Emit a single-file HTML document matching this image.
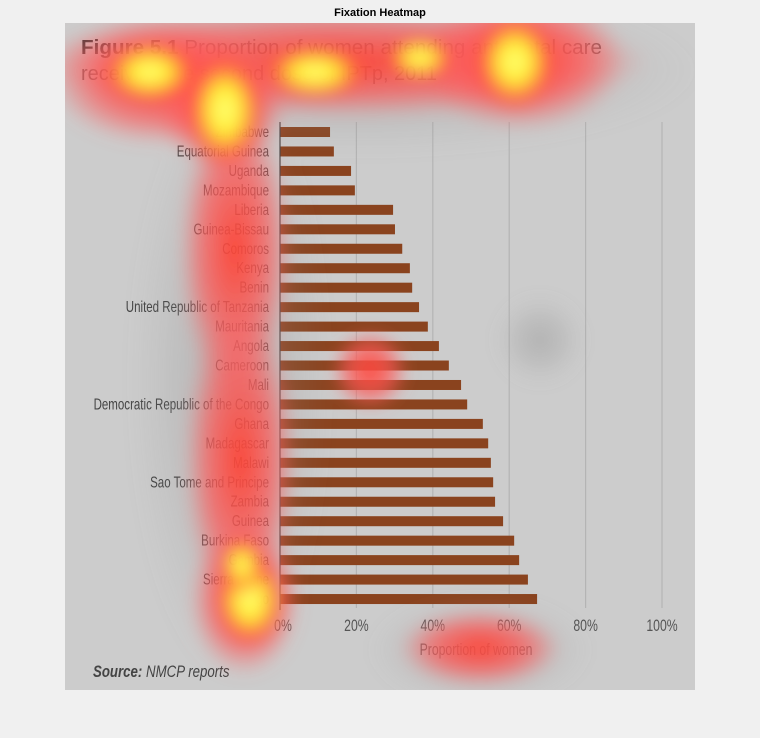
<!DOCTYPE html>
<html><head><meta charset="utf-8">
<style>
html,body{margin:0;padding:0;background:#f0f0f0;width:760px;height:738px;overflow:hidden}
svg{display:block}
text{font-family:"Liberation Sans",sans-serif}
</style></head>
<body>
<svg width="760" height="738">
<defs>
<radialGradient id="hot"><stop offset="0" stop-color="#ffff80" stop-opacity="1"/><stop offset="0.4" stop-color="#ffef30" stop-opacity="1"/><stop offset="0.75" stop-color="#ff6040" stop-opacity="0.75"/><stop offset="1" stop-color="#ff4040" stop-opacity="0"/></radialGradient>
<radialGradient id="warm"><stop offset="0" stop-color="#ff4030" stop-opacity="0.95"/><stop offset="0.6" stop-color="#ff5a5a" stop-opacity="0.7"/><stop offset="1" stop-color="#ff6060" stop-opacity="0"/></radialGradient>
<radialGradient id="shade"><stop offset="0" stop-color="#8a8a8a" stop-opacity="0.4"/><stop offset="1" stop-color="#8a8a8a" stop-opacity="0"/></radialGradient>
<filter id="bl" x="-20%" y="-20%" width="140%" height="140%"><feGaussianBlur stdDeviation="8"/></filter>
<clipPath id="imgclip"><rect x="65" y="23" width="630" height="667"/></clipPath>
</defs>
<text x="380" y="16" text-anchor="middle" font-size="11" font-weight="bold" fill="#000">Fixation Heatmap</text>
<rect x="65" y="23" width="630" height="667" fill="#cccccc"/>
<g id="chart"></g>
<g clip-path="url(#imgclip)"><g id="heat" filter="url(#bl)"></g></g>
</svg>
<script>
const countries=["Zimbabwe","Equatorial Guinea","Uganda","Mozambique","Liberia","Guinea-Bissau","Comoros","Kenya","Benin","United Republic of Tanzania","Mauritania","Angola","Cameroon","Mali","Democratic Republic of the Congo","Ghana","Madagascar","Malawi","Sao Tome and Principe","Zambia","Guinea","Burkina Faso","Gambia","Sierra Leone","Togo"];
const values=[13.1,14.1,18.6,19.6,29.6,30.1,32,34,34.6,36.4,38.7,41.6,44.2,47.4,49,53.1,54.5,55.2,55.8,56.3,58.4,61.3,62.6,64.9,67.3];
const ticks=[0,20,40,60,80,100];
const tickLabels=["0%","20%","40%","60%","80%","100%"];
const NS="http://www.w3.org/2000/svg";
const x0=280,x1=662,yTop=132,step=19.46;
const xs=v=>x0+(x1-x0)*v/100;
const ys=i=>yTop+i*step;
const chart=document.getElementById('chart');
function mk(t,a,p){const e=document.createElementNS(NS,t);for(const k in a)e.setAttribute(k,a[k]);(p||chart).appendChild(e);return e;}
function ctext(x,y,anchor,size,fill,str){const t=mk('text',{x:0,y:0,'text-anchor':anchor,'font-size':size,fill:fill,transform:'translate('+x+','+y+') scale(0.72,1)'});t.textContent=str;return t;}
ticks.forEach((t,i)=>{
  if(i>0){const g=mk('line',{x1:xs(t),x2:xs(t),y1:122,y2:608,stroke:'#b4b4b4','stroke-width':1.2});
  
  }
  const l=ctext(xs(t)+(i==0?3:0),631,'middle',17,'#555',tickLabels[i]);
  
  
});
countries.forEach((c,i)=>{
  const b=mk('rect',{x:x0,y:ys(i)-5,width:xs(values[i])-x0,height:10,fill:'#8a431e'});
  
  
  const t=ctext(x0-11,ys(i)+5,'end',16,'#444',c);
  
  
});
const ax=mk('line',{x1:x0,x2:x0,y1:122,y2:610,stroke:'#444','stroke-width':1.2});


const xt=ctext(476,655,'middle',17,'#555',"Proportion of women");


const src=mk('text',{x:0,y:0,'font-size':17,fill:'#444','font-style':'italic',transform:'translate(93,677) scale(0.78,1)'});
src.innerHTML='<tspan font-weight="bold">Source:</tspan> NMCP reports';


const t1=mk('text',{x:81,y:54,'font-size':20,fill:'#555',textLength:521,lengthAdjust:'spacingAndGlyphs'});
t1.innerHTML='<tspan font-weight="bold" fill="#333">Figure 5.1</tspan> Proportion of women attending antenatal care';


const t2=mk('text',{x:81,y:80,'font-size':20,fill:'#555',textLength:356,lengthAdjust:'spacingAndGlyphs'});
t2.textContent='receiving the second dose of IPTp, 2011';


const heat=document.getElementById('heat');
const blobs=[
 ['shade',360,70,340,85],['shade',230,380,100,300],['shade',540,340,45,45],['shade',480,650,110,55],
 ['warm',340,62,310,55],['warm',160,80,110,65],['warm',520,60,105,70],['warm',235,250,55,150],['warm',240,460,55,160],
 ['warm',370,370,38,40],['warm',480,648,80,38],['warm',245,600,55,75],['warm',220,110,65,55],
 ['hot',150,72,50,32],['hot',225,110,40,60],['hot',315,72,55,28],['hot',420,58,35,22],['hot',515,62,42,50],
 ['hot',250,600,36,48],['hot',242,565,22,28]
];
blobs.forEach(b=>{const e=mk('ellipse',{cx:b[1],cy:b[2],rx:b[3],ry:b[4],fill:'url(#'+b[0]+')'},heat);
 
 });
</script>
</body></html>
